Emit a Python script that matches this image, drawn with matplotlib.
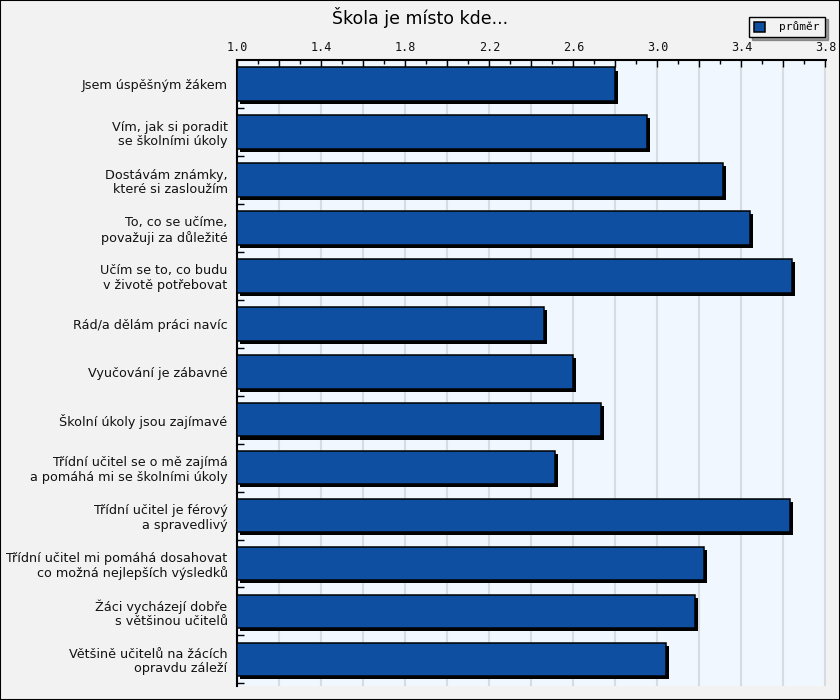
import matplotlib
matplotlib.use("Agg")
import matplotlib.pyplot as plt
import matplotlib.patheffects as pe
from matplotlib.patches import Rectangle
import numpy as np

title = "Škola je místo kde..."
categories = [
    "Jsem úspěšným žákem",
    "Vím, jak si poradit\nse školními úkoly",
    "Dostávám známky,\nkteré si zasloužím",
    "To, co se učíme,\npovažuji za důležité",
    "Učím se to, co budu\nv životě potřebovat",
    "Rád/a dělám práci navíc",
    "Vyučování je zábavné",
    "Školní úkoly jsou zajímavé",
    "Třídní učitel se o mě zajímá\na pomáhá mi se školními úkoly",
    "Třídní učitel je férový\na spravedlivý",
    "Třídní učitel mi pomáhá dosahovat\nco možná nejlepších výsledků",
    "Žáci vycházejí dobře\ns většinou učitelů",
    "Většině učitelů na žácích\nopravdu záleží",
]
values = [2.80, 2.95, 3.31, 3.44, 3.64, 2.46, 2.60, 2.73, 2.51, 3.63, 3.22, 3.18, 3.04]
series_name = "průměr"
x_ticks = [1.0, 1.4, 1.8, 2.2, 2.6, 3.0, 3.4, 3.8]
x_min, x_max = 1.0, 3.8

bar_color = "#0E4FA1"
fig_bg = "#F2F2F2"
ax_bg = "#F0F7FF"

fig = plt.figure(figsize=(8.4, 7.0), dpi=100, facecolor=fig_bg)
# figure border
fig.patches.append(Rectangle((0, 0), 1, 1, transform=fig.transFigure,
                             fill=False, edgecolor="black", linewidth=1.5))

W, H = 840, 700
left, right, top, bottom = 237.3, 825.5, 60.3, 686
ax = fig.add_axes([left / W, 1 - bottom / H, (right - left) / W, (bottom - top) / H])
ax.set_facecolor(ax_bg)

n = len(categories)
y = np.arange(n)
bars = ax.barh(y, [v - x_min for v in values], left=x_min, height=0.7,
               color=bar_color, edgecolor="black", linewidth=1.1, zorder=3)
for b in bars:
    b.set_path_effects([pe.SimplePatchShadow(offset=(2.2, -2.2), shadow_rgbFace="black", alpha=1.0),
                        pe.Normal()])

ax.set_xlim(x_min, x_max)
ax.set_ylim(n - 0.5 + 2.7 / 47.9, -0.5)

# x axis on top
ax.xaxis.tick_top()
major = np.arange(1.0, 3.81, 0.2)
ax.set_xticks(major)
ax.set_xticks(np.arange(1.1, 3.8, 0.2), minor=True)
ax.set_xticklabels([f"{t:.1f}" if any(abs(t - s) < 1e-6 for s in x_ticks) else ""
                    for t in major],
                   family="DejaVu Sans Mono", fontsize=8.5, color="#111111")
ax.tick_params(axis="x", which="major", direction="in", length=5, width=1, pad=4.5, top=True, bottom=False)
ax.tick_params(axis="x", which="minor", direction="in", length=3, width=1, top=True, bottom=False)
ax.grid(axis="x", which="major", color="#D8DCE0", linewidth=1.5, zorder=0)
ax.set_axisbelow(True)

# y axis
ax.set_yticks(y)
ax.set_yticklabels(categories, fontsize=9.2, color="#111111", linespacing=1.15)
ax.set_yticks(np.arange(0.5, n - 0.4, 1.0), minor=True)
ax.tick_params(axis="y", which="major", length=0, pad=7)
ax.tick_params(axis="y", which="minor", direction="in", length=5, width=1)

for s in ["right", "bottom"]:
    ax.spines[s].set_visible(False)
for s in ["left", "top"]:
    ax.spines[s].set_color("black")
    ax.spines[s].set_linewidth(1.5)

fig.text(0.5, 1 - 17 / H, title, ha="center", va="center", fontsize=12.5, color="black")

leg = ax.legend([bars[0]], [series_name], loc="upper right",
                bbox_to_anchor=(825 / W, 1 - 16.5 / H), bbox_transform=fig.transFigure,
                fancybox=False, shadow=True, framealpha=1, facecolor=fig_bg,
                edgecolor="black", prop={"family": "DejaVu Sans Mono", "size": 8.0},
                handlelength=1.0, handleheight=1.0, borderpad=0.45, handletextpad=1.3,
                borderaxespad=0)
leg.get_frame().set_linewidth(1.0)
for h in leg.legend_handles:
    h.set_path_effects([])

fig.savefig("out.png", dpi=100, facecolor=fig_bg)
